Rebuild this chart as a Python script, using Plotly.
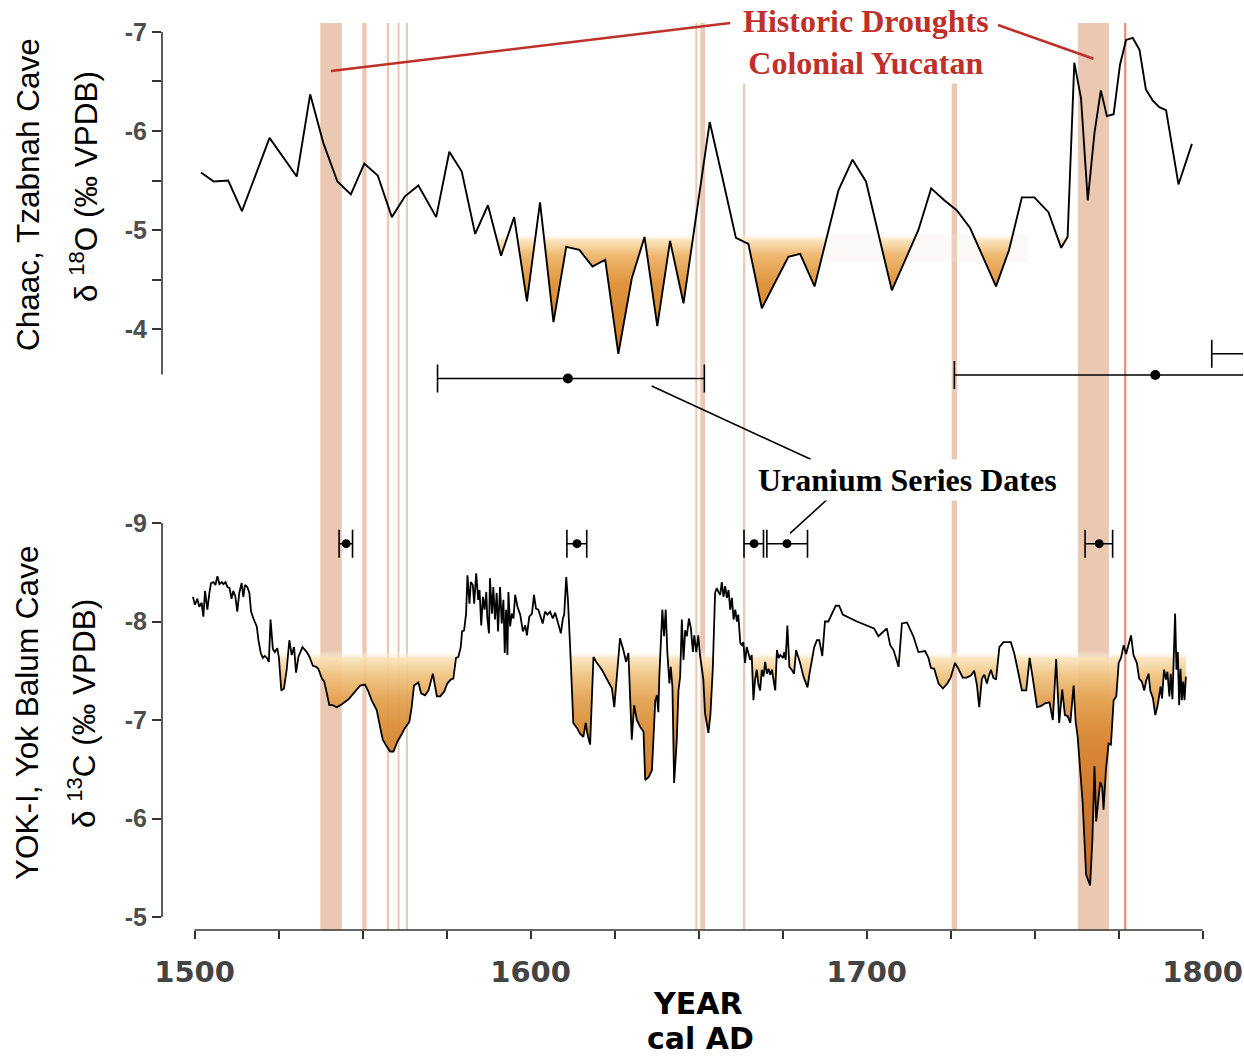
import plotly.graph_objects as go

W, H = 1244, 1057
ML, MR = 162, 1
PW = W - ML - MR


def px(x):
    return (x - ML) / PW


def py(y):
    return 1 - y / H


# ---------------- data ----------------
# Chaac, Tzabnah Cave  d18O (permil VPDB)
o18_year = [1501.9, 1505.7, 1510.0, 1514.1, 1522.3, 1530.4, 1534.4, 1538.3, 1542.5, 1546.5,
            1550.5, 1554.5, 1558.7, 1562.6, 1566.6, 1571.9, 1575.8, 1579.5, 1583.5, 1587.3,
            1591.2, 1595.1, 1598.9, 1602.8, 1606.8, 1610.6, 1614.5, 1618.4, 1622.2, 1626.1,
            1630.1, 1633.9, 1637.7, 1641.5, 1645.5, 1653.3, 1657.2, 1661.1, 1664.8, 1668.8,
            1676.7, 1680.2, 1684.5, 1691.6, 1695.8, 1699.8, 1707.5, 1715.4, 1719.2, 1723.1,
            1726.8, 1730.8, 1738.5, 1742.4, 1746.2, 1749.9, 1754.1, 1757.9, 1759.8, 1761.8,
            1763.8, 1765.8, 1767.8, 1769.7, 1771.5, 1773.5, 1775.4, 1777.2, 1779.2, 1781.2,
            1783.1, 1785.1, 1787.1, 1789.1, 1792.8, 1796.8]
o18_val = [-5.58, -5.49, -5.50, -5.19, -5.93, -5.54, -6.37, -5.88, -5.49, -5.36,
           -5.67, -5.55, -5.13, -5.34, -5.45, -5.13, -5.79, -5.59, -4.96, -5.25,
           -4.74, -5.13, -4.28, -5.28, -4.07, -4.83, -4.80, -4.63, -4.70, -3.75,
           -4.51, -4.93, -4.03, -4.89, -4.26, -6.09, -5.51, -4.92, -4.86, -4.21,
           -4.73, -4.76, -4.43, -5.40, -5.71, -5.49, -4.39, -5.00, -5.42, -5.30,
           -5.20, -5.02, -4.43, -4.80, -5.33, -5.33, -5.18, -4.82, -4.93, -6.69,
           -6.33, -5.30, -5.98, -6.41, -6.15, -6.17, -6.67, -6.92, -6.94, -6.82,
           -6.42, -6.31, -6.24, -6.21, -5.46, -5.87]

# YOK-I, Yok Balum Cave  d13C (permil VPDB)
c13_year = [
    1499.5, 1500.1, 1500.8, 1501.4, 1502.1, 1502.6, 1503.1, 1503.8, 1504.4, 1504.9,
    1505.6, 1506.2, 1506.8, 1507.4, 1508.1, 1508.6, 1509.2, 1509.8, 1510.4, 1511.0,
    1511.5, 1512.1, 1512.7, 1513.3, 1514.0, 1514.5, 1515.0, 1515.7, 1516.3, 1516.8,
    1517.5, 1518.5, 1519.0, 1519.7, 1520.3, 1520.9, 1521.5, 1522.1, 1522.6, 1523.3,
    1523.9, 1524.6, 1525.1, 1525.8, 1526.6, 1527.4, 1528.2, 1528.9, 1529.6, 1530.2,
    1530.9, 1532.1, 1533.4, 1534.2, 1535.2, 1536.2, 1536.8, 1537.9, 1538.6, 1539.3,
    1540.1, 1541.1, 1542.3, 1543.8, 1545.8, 1547.8, 1549.3, 1550.7, 1551.7, 1552.7,
    1554.2, 1555.2, 1556.0, 1557.2, 1558.2, 1559.2, 1560.2, 1561.7, 1562.6, 1563.9,
    1564.6, 1565.3, 1566.6, 1567.4, 1568.6, 1569.6, 1570.9, 1572.1, 1573.1,
    1574.3, 1575.2, 1576.2, 1577.0, 1577.8, 1578.5, 1579.2, 1579.6, 1580.2, 1580.8,
    1581.2, 1581.8, 1582.2, 1582.8, 1583.2, 1583.8, 1584.4, 1584.8, 1585.3, 1585.8,
    1586.3, 1586.8, 1587.1, 1587.6, 1587.9, 1588.5, 1588.9, 1589.4, 1589.9, 1590.3,
    1590.9, 1591.4, 1591.9, 1592.3, 1592.7, 1593.1, 1593.4, 1593.9, 1594.4, 1594.9,
    1595.4, 1596.1, 1596.9, 1597.7, 1598.4, 1598.9, 1599.6, 1600.4, 1601.0, 1601.6,
    1602.3, 1603.0, 1603.6, 1604.3, 1605.0, 1605.8, 1606.6, 1607.3, 1608.3, 1609.0,
    1609.6, 1610.0, 1610.6, 1611.1, 1611.8, 1612.7, 1613.8, 1614.7, 1615.7, 1616.4,
    1616.9, 1617.7, 1618.7, 1619.7, 1621.2, 1622.7, 1624.2, 1624.9, 1626.6, 1627.6,
    1628.4, 1629.1, 1629.6, 1630.1, 1630.8, 1631.6, 1632.6, 1633.6, 1634.1, 1635.1,
    1636.1, 1636.6, 1637.1, 1637.6, 1638.0, 1638.3, 1638.8, 1639.2, 1639.7, 1640.2,
    1640.7, 1641.3, 1641.7, 1642.2, 1642.7, 1643.5, 1644.0,
    1644.5, 1645.0, 1645.5, 1646.0, 1646.5, 1647.1, 1647.7, 1648.3, 1648.7, 1649.3,
    1649.9, 1650.4, 1650.9, 1651.4, 1651.9, 1652.4, 1652.9, 1653.5, 1653.9, 1654.2,
    1654.9, 1655.4, 1655.9, 1656.4, 1656.9, 1657.4, 1657.9, 1658.4, 1658.9, 1659.4,
    1659.9, 1660.4, 1660.9, 1661.4, 1661.8, 1662.4, 1662.9, 1663.3, 1663.8, 1664.3,
    1664.8, 1665.3, 1665.8, 1666.3, 1666.8, 1667.3, 1667.8, 1668.3, 1668.8, 1669.3,
    1669.8, 1670.3, 1670.8, 1671.3, 1671.8, 1672.3, 1672.8, 1673.3, 1673.8, 1674.3,
    1675.1, 1675.5, 1675.9, 1676.4, 1677.0, 1677.7, 1678.4, 1679.0, 1680.2, 1681.2,
    1682.4, 1683.0, 1683.7, 1684.4, 1685.2, 1685.9, 1686.8, 1687.6, 1688.6, 1689.6,
    1690.8, 1691.8, 1692.9, 1697.1, 1702.2, 1703.5, 1706.0, 1707.0, 1708.0, 1709.5,
    1710.5, 1712.0,
    1713.9, 1715.4, 1717.4, 1718.4, 1719.1, 1720.1, 1721.4, 1722.7, 1724.0, 1725.0,
    1726.3, 1727.3, 1728.6, 1729.8, 1731.0, 1732.0, 1732.8, 1733.5, 1734.3, 1735.0,
    1735.8, 1736.3, 1737.0, 1737.7, 1738.5, 1739.5, 1740.7, 1742.9, 1743.9, 1745.2,
    1746.2, 1747.5, 1748.5, 1749.5, 1750.7, 1751.8, 1753.1, 1754.4, 1755.4, 1756.4,
    1757.3, 1758.2, 1759.0, 1759.8, 1760.6, 1761.6, 1762.2, 1762.8, 1763.5, 1764.3,
    1765.3, 1766.5, 1767.2, 1767.8, 1768.3, 1769.0, 1769.5, 1770.1, 1770.5, 1771.2,
    1772.0, 1772.7, 1773.5, 1774.3, 1775.0, 1775.7, 1776.5, 1777.2, 1778.0, 1778.7,
    1779.4, 1780.4, 1781.1, 1781.9, 1782.6, 1783.2, 1783.9, 1784.4, 1785.2, 1785.9,
    1786.6, 1787.1, 1787.5, 1787.9, 1788.5, 1789.1, 1789.5, 1790.1, 1790.5, 1791.0,
    1791.4, 1791.8, 1792.2, 1792.6, 1793.0, 1793.4, 1793.8, 1794.2, 1794.6, 1795.0]
c13_val = [
    -8.25, -8.17, -8.23, -8.15, -8.19, -8.05, -8.31, -8.12, -8.29, -8.39,
    -8.40, -8.37, -8.46, -8.38, -8.40, -8.38, -8.40, -8.35, -8.34, -8.23,
    -8.31, -8.26, -8.10, -8.29, -8.39, -8.25, -8.37, -8.35, -8.29, -8.10,
    -8.03, -7.95, -7.81, -7.68, -7.63, -7.65, -7.63, -7.59, -8.02, -7.72,
    -7.69, -7.73, -7.63, -7.30, -7.32, -7.51, -7.81, -7.66, -7.74, -7.48,
    -7.64, -7.74, -7.69, -7.64, -7.55, -7.54, -7.52, -7.42, -7.39, -7.29,
    -7.15, -7.15, -7.13, -7.16, -7.21, -7.29, -7.35, -7.36, -7.29, -7.20,
    -7.10, -6.93, -6.80, -6.73, -6.68, -6.68, -6.77, -6.86, -6.92, -6.98,
    -7.13, -7.35, -7.38, -7.27, -7.25, -7.30, -7.47, -7.24, -7.24,
    -7.29, -7.37, -7.41, -7.42, -7.63, -7.64, -7.74, -7.90, -7.91, -8.08,
    -8.47, -8.18, -8.40, -8.37, -8.18, -8.49, -8.22, -8.32, -7.96, -8.25,
    -8.12, -8.30, -8.05, -7.88, -8.44, -8.08, -8.35, -8.02, -8.29, -7.90,
    -8.35, -7.98, -8.22, -7.68, -8.12, -7.66, -8.30, -7.95, -8.08, -8.03,
    -8.27, -8.15, -8.07, -7.90, -7.96, -7.86, -8.05, -8.08, -8.27, -8.13,
    -8.12, -8.05, -7.98, -8.10, -8.07, -8.10, -8.03, -8.09, -7.96, -7.88,
    -8.03, -8.07, -8.45, -8.22, -7.71, -6.97, -6.92, -6.86, -6.83, -6.97,
    -6.86, -6.75, -7.64, -7.58, -7.51, -7.42, -7.32, -7.13, -7.83, -7.71,
    -7.59, -7.68, -7.13, -6.80, -7.15, -7.00, -6.93, -6.88, -6.39, -6.42,
    -6.49, -6.86, -7.20, -7.25, -7.08, -7.44, -7.79, -8.12, -7.85, -8.12,
    -7.68, -7.37, -7.54, -7.34, -6.36, -6.80, -7.30,
    -7.44, -8.02, -7.61, -7.91, -7.85, -8.03, -7.93, -7.69, -7.86, -7.69,
    -7.86, -7.66, -7.54, -7.41, -7.07, -6.95, -6.87, -7.05, -7.27, -7.51,
    -8.29, -8.34, -8.30, -8.27, -8.40, -8.25, -8.36, -8.24, -8.32, -8.12,
    -8.24, -8.02, -8.12, -8.00, -8.07, -7.78, -7.76, -7.79, -7.58, -7.74,
    -7.68, -7.61, -7.66, -7.20, -7.41, -7.51, -7.36, -7.30, -7.51, -7.44,
    -7.59, -7.47, -7.52, -7.46, -7.51, -7.41, -7.30, -7.71, -7.63, -7.66,
    -7.63, -7.69, -7.61, -7.96, -7.54, -7.51, -7.47, -7.71, -7.58, -7.44,
    -7.33, -7.47, -7.63, -7.74, -7.81, -7.81, -7.65, -8.00, -8.00, -8.07,
    -8.16, -8.16, -8.07, -8.00, -7.93, -7.85, -7.93, -7.76, -7.71, -7.54,
    -7.98, -7.99,
    -7.85, -7.69, -7.70, -7.63, -7.53, -7.52, -7.37, -7.32, -7.37, -7.43,
    -7.58, -7.52, -7.43, -7.43, -7.45, -7.50, -7.36, -7.13, -7.42, -7.46,
    -7.37, -7.44, -7.51, -7.43, -7.41, -7.74, -7.79, -7.79, -7.68, -7.47,
    -7.30, -7.30, -7.63, -7.41, -7.13, -7.14, -7.17, -7.18, -7.00, -7.62,
    -6.97, -7.31, -7.05, -7.04, -6.97, -7.35, -6.98, -6.83, -6.53, -6.15,
    -5.43, -5.32, -5.80, -6.53, -5.97, -6.19, -6.37, -6.32, -6.09, -6.49,
    -6.76, -6.75, -7.20, -7.24, -7.58, -7.63, -7.76, -7.67, -7.78, -7.86,
    -7.66, -7.58, -7.42, -7.39, -7.30, -7.40, -7.47, -7.30, -7.22, -7.05,
    -7.15, -7.27, -7.34, -7.22, -7.51, -7.41, -7.49, -7.24, -7.47, -7.21,
    -7.81, -8.08, -7.51, -7.69, -7.15, -7.52, -7.20, -7.39, -7.20, -7.44]

# drought-anomaly thresholds
o18_threshold = -4.96
c13_threshold = -7.70

# Historic droughts, colonial Yucatan (start year, end year)
drought_start = [1537.4, 1549.9, 1557.2, 1560.4, 1562.9, 1649.0, 1650.5, 1663.2, 1725.3, 1762.9, 1776.6]
drought_end = [1543.8, 1551.2, 1557.9, 1561.0, 1563.5, 1649.6, 1651.9, 1663.9, 1726.9, 1772.1, 1777.3]

# Uranium-series dates (age, -err, +err)
u_chaac_age = [1611.1, 1785.9, 1835.0]
u_chaac_minus = [38.8, 59.8, 32.3]
u_chaac_plus = [40.6, 40.0, 30.0]
u_yok_age = [1545.1, 1613.8, 1666.5, 1676.3, 1769.2]
u_yok_minus = [2.1, 3.0, 3.0, 6.0, 4.2]
u_yok_plus = [1.9, 2.9, 2.8, 6.1, 4.0]

x_tick_vals = [1500, 1600, 1700, 1800]
x_tick_text = ["1500", "1600", "1700", "1800"]
x_minor_vals = [1525, 1550, 1575, 1625, 1650, 1675, 1725, 1750, 1775]
o18_tick_vals = [-7, -6, -5, -4]
o18_tick_text = ["-7", "-6", "-5", "-4"]
o18_minor_vals = [-6.5, -5.5, -4.5]
c13_tick_vals = [-9, -8, -7, -6, -5]
c13_tick_text = ["-9", "-8", "-7", "-6", "-5"]


# ---------------- helpers ----------------
def clip_below(xs, ys, thr):
    ox, oy = [], []
    for i in range(len(xs)):
        if i > 0:
            y0, y1 = ys[i - 1], ys[i]
            if (y0 - thr) * (y1 - thr) < 0:
                t = (thr - y0) / (y1 - y0)
                ox.append(xs[i - 1] + t * (xs[i] - xs[i - 1]))
                oy.append(thr)
        ox.append(xs[i])
        oy.append(max(ys[i], thr))
    return ox, oy


fig = go.Figure()

# ---- top panel: anomaly fill + line
fx, fy = clip_below(o18_year, o18_val, o18_threshold)
fig.add_trace(go.Scatter(x=fx, y=[o18_threshold] * len(fx), mode="lines",
                         line=dict(width=0), hoverinfo="skip", showlegend=False,
                         xaxis="x", yaxis="y"))
fig.add_trace(go.Scatter(x=fx, y=fy, mode="lines", line=dict(width=0), fill="tonexty",
                         fillgradient=dict(type="vertical", start=o18_threshold, stop=-3.75,
                                           colorscale=[[0, "rgba(255,255,255,0)"],
                                                       [0.05, "rgba(250,226,186,0.92)"],
                                                       [0.18, "rgba(238,180,105,0.95)"],
                                                       [0.42, "rgba(222,145,56,0.97)"],
                                                       [1, "rgba(208,124,30,1)"]]),
                         hoverinfo="skip", showlegend=False, xaxis="x", yaxis="y"))
fig.add_trace(go.Scatter(x=o18_year, y=o18_val, mode="lines",
                         line=dict(color="black", width=1.9), showlegend=False,
                         xaxis="x", yaxis="y"))

# ---- bottom panel
gx, gy = clip_below(c13_year, c13_val, c13_threshold)
fig.add_trace(go.Scatter(x=gx, y=[c13_threshold] * len(gx), mode="lines",
                         line=dict(width=0), hoverinfo="skip", showlegend=False,
                         xaxis="x", yaxis="y2"))
fig.add_trace(go.Scatter(x=gx, y=gy, mode="lines", line=dict(width=0), fill="tonexty",
                         fillgradient=dict(type="vertical", start=c13_threshold, stop=-5.3,
                                           colorscale=[[0, "rgba(255,255,255,0)"],
                                                       [0.03, "rgba(250,228,188,0.9)"],
                                                       [0.1, "rgba(240,195,128,0.92)"],
                                                       [0.2, "rgba(228,162,82,0.94)"],
                                                       [0.35, "rgba(217,138,52,0.96)"],
                                                       [0.6, "rgba(208,120,44,0.97)"],
                                                       [1, "rgba(200,104,36,1)"]]),
                         hoverinfo="skip", showlegend=False, xaxis="x", yaxis="y2"))
fig.add_trace(go.Scatter(x=c13_year, y=c13_val, mode="lines",
                         line=dict(color="black", width=1.8), showlegend=False,
                         xaxis="x", yaxis="y2"))

# ---- U-series dates
chaac_rows = [-3.50, -3.535, -3.75]
fig.add_trace(go.Scatter(x=u_chaac_age, y=chaac_rows, mode="markers",
                         marker=dict(color="black", size=10),
                         error_x=dict(type="data", array=u_chaac_plus, arrayminus=u_chaac_minus,
                                      color="black", thickness=1.6, width=14),
                         showlegend=False, xaxis="x", yaxis="y"))
fig.add_trace(go.Scatter(x=u_yok_age, y=[-8.79] * len(u_yok_age), mode="markers",
                         marker=dict(color="black", size=9),
                         error_x=dict(type="data", array=u_yok_plus, arrayminus=u_yok_minus,
                                      color="black", thickness=1.6, width=14),
                         showlegend=False, xaxis="x", yaxis="y2"))

# ---------------- shapes ----------------
shapes = []
for s, e in zip(drought_start, drought_end):
    col = "#D99A80" if s > 1775 else "#EBC8B2"
    shapes.append(dict(type="rect", xref="x", yref="paper", x0=s, x1=e,
                       y0=py(930), y1=py(23), fillcolor=col, line=dict(width=0),
                       layer="below"))
# faint residue of the anomaly shading band (top panel)
shapes.append(dict(type="rect", xref="x", yref="y", x0=1663, x1=1748, y0=o18_threshold, y1=-4.68,
                   fillcolor="rgba(240,234,226,0.22)", line=dict(width=0), layer="below"))
spine = dict(color="#333333", width=1.6)
shapes.append(dict(type="line", xref="paper", yref="y", x0=0, x1=0, y0=-7, y1=-3.54, line=spine))
shapes.append(dict(type="line", xref="paper", yref="y2", x0=0, x1=0, y0=-9, y1=-5, line=spine))
shapes.append(dict(type="line", xref="x", yref="paper", x0=1500, x1=1800, y0=py(930), y1=py(930), line=spine))
# leader lines
red = "#C0302A"
shapes.append(dict(type="line", xref="x", yref="y", x0=(drought_start[0] + drought_end[0]) / 2, y0=-6.606,
                   x1=1659.4, y1=-7.09, line=dict(color=red, width=2.6)))
shapes.append(dict(type="line", xref="x", yref="y", x0=1739.1, y0=-7.07,
                   x1=(drought_start[9] + drought_end[9]) / 2, y1=-6.73, line=dict(color=red, width=2.6)))
shapes.append(dict(type="line", xref="paper", yref="paper", x0=px(651.7), y0=py(386),
                   x1=px(810.7), y1=py(459.3), line=dict(color="black", width=1.6)))
shapes.append(dict(type="line", xref="paper", yref="paper", x0=px(790), y0=py(533.3),
                   x1=px(831), y1=py(496), line=dict(color="black", width=1.6)))

# ---------------- annotations ----------------
title_font = dict(family="Liberation Sans, Arial", size=31.5, color="black")
ann = [
    dict(text="Historic Droughts<br>Colonial Yucatan", x=px(865.5), y=py(42), xref="paper", yref="paper",
         showarrow=False, xanchor="center", yanchor="middle", bgcolor="white", borderpad=2,
         font=dict(family="Liberation Serif, Times New Roman, serif", size=32, color=red, weight="bold")),
    dict(text="Uranium Series Dates", x=px(907.5), y=py(480), xref="paper", yref="paper",
         showarrow=False, xanchor="center", yanchor="middle", bgcolor="white", borderpad=2,
         font=dict(family="Liberation Serif, Times New Roman, serif", size=32, color="black", weight="bold")),
    dict(text="YEAR", x=px(698), y=py(1003), xref="paper", yref="paper",
         showarrow=False, xanchor="center", yanchor="middle",
         font=dict(family="DejaVu Sans", size=30, color="black", weight="bold")),
    dict(text="cal AD", x=px(700), y=py(1038), xref="paper", yref="paper",
         showarrow=False, xanchor="center", yanchor="middle", borderpad=0,
         font=dict(family="DejaVu Sans", size=30, color="black", weight="bold")),
    dict(text="Chaac, Tzabnah Cave", x=px(28), y=py(195), xref="paper", yref="paper", textangle=-90,
         showarrow=False, xanchor="center", yanchor="middle", font=title_font),
    dict(text="δ <sup>18</sup>O (‰ VPDB)", x=px(84), y=py(187), xref="paper", yref="paper", textangle=-90,
         showarrow=False, xanchor="center", yanchor="middle", font=title_font),
    dict(text="YOK-I, Yok Balum Cave", x=px(27), y=py(713), xref="paper", yref="paper", textangle=-90,
         showarrow=False, xanchor="center", yanchor="middle", font=title_font),
    dict(text="δ <sup>13</sup>C (‰ VPDB)", x=px(82), y=py(714), xref="paper", yref="paper", textangle=-90,
         showarrow=False, xanchor="center", yanchor="middle", font=title_font),
]

ytick_font = dict(family="Liberation Sans, Arial", size=25, color="#4d4d4d", weight="bold")
fig.update_layout(
    width=W, height=H,
    margin=dict(l=ML, r=MR, t=0, b=0),
    paper_bgcolor="white", plot_bgcolor="white",
    showlegend=False,
    shapes=shapes, annotations=ann,
    xaxis=dict(domain=[0, 1], range=[1490.3, 1812], anchor="y2",
               tickmode="array", tickvals=x_tick_vals, ticktext=x_tick_text,
               ticks="outside", ticklen=8, tickwidth=1.6, tickcolor="#333333",
               minor=dict(tickmode="array", tickvals=x_minor_vals, ticks="outside", ticklen=8,
                          tickwidth=1.6, tickcolor="#333333", showgrid=False),
               showline=False, showgrid=False, zeroline=False, automargin=False,
               ticklabelstandoff=8,
               tickfont=dict(family="DejaVu Sans", size=29, color="#444444", weight="bold")),
    yaxis=dict(domain=[py(400), py(20)], range=[-3.283, -7.121], anchor="x",
               tickmode="array", tickvals=o18_tick_vals, ticktext=o18_tick_text,
               ticks="outside", ticklen=9, tickwidth=1.6, tickcolor="#333333",
               minor=dict(tickmode="array", tickvals=o18_minor_vals, ticks="outside", ticklen=9,
                          tickwidth=1.6, tickcolor="#333333", showgrid=False),
               showline=False, showgrid=False, zeroline=False, automargin=False,
               tickfont=ytick_font),
    yaxis2=dict(domain=[py(930), py(500)], range=[-4.868, -9.2335], anchor="x",
                tickmode="array", tickvals=c13_tick_vals, ticktext=c13_tick_text,
                ticks="outside", ticklen=9, tickwidth=1.6, tickcolor="#333333",
                showline=False, showgrid=False, zeroline=False, automargin=False,
                tickfont=ytick_font),
)

fig.write_html("out.html")
